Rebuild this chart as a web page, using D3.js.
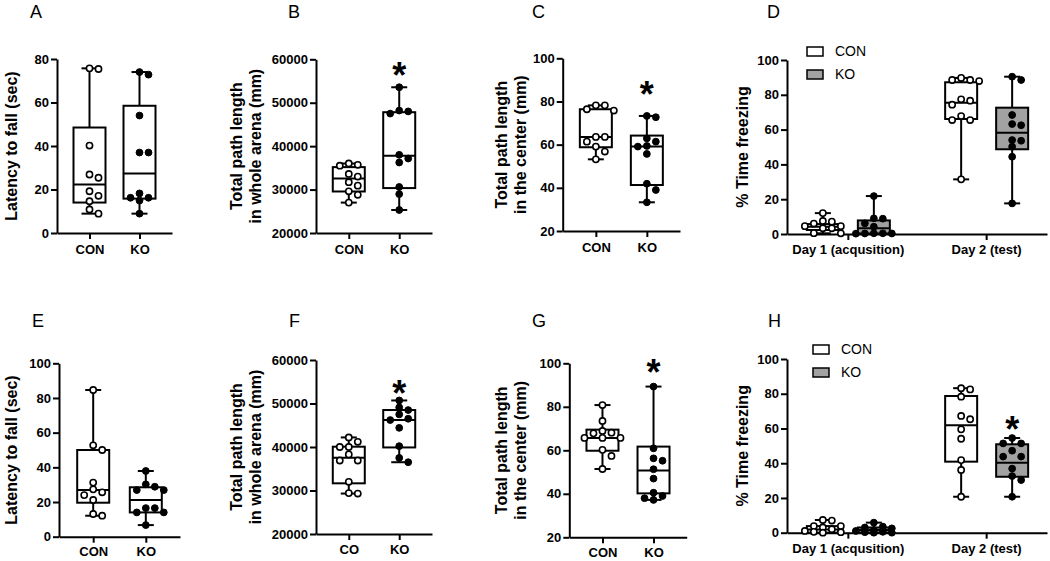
<!DOCTYPE html>
<html><head><meta charset="utf-8">
<script src="https://cdn.jsdelivr.net/npm/d3@7"></script>
<style>
body{margin:0;background:#fff;}
svg{display:block;font-family:"Liberation Sans",Arial,sans-serif;}
</style></head><body>
<svg id="chart" width="1050" height="561"></svg>
<script>
// ---------- DATA ----------
const groups = ["CON", "KO"];
const groupsF = ["CO", "KO"];
const days = ["Day 1 (acqusition)", "Day 2 (test)"];

const ticksA = [0, 20, 40, 60, 80];
const ticksPath = [20000, 30000, 40000, 50000, 60000];
const ticksCenter = [20, 40, 60, 80, 100];
const ticksPct = [0, 20, 40, 60, 80, 100];

// box stats: [min, q1, median, q3, max]
const aCON = [75.7, 75.4, 40.2, 26.9, 25.4, 19.2, 17.1, 14.6, 10.8, 8.9];
const aKO = [74.0, 72.8, 54.0, 37.0, 37.0, 18.2, 16.2, 16.2, 14.9, 8.9];
const aBoxCON = [8.9, 14.0, 22.3, 48.5, 75.7];
const aBoxKO = [8.9, 15.8, 27.4, 58.5, 74.0];

const bCON = [36000, 35700, 35500, 33600, 33000, 31700, 30900, 29600, 28800, 27000];
const bKO = [53560, 48200, 48000, 47500, 38000, 37150, 36230, 30600, 28960, 25300];
const bBoxCON = [27000, 29560, 32560, 35170, 36000];
const bBoxKO = [25300, 30345, 37770, 47816, 53560];

const cCON = [78.2, 78.2, 76.4, 75.8, 63.6, 63.6, 61.4, 59.1, 56.8, 53.2];
const cKO = [73.3, 72.7, 62.9, 61.4, 59.4, 59.1, 55.7, 41.9, 39.0, 33.3];
const cBoxCON = [53.2, 58.8, 63.6, 76.4, 78.2];
const cBoxKO = [33.3, 41.3, 59.1, 64.2, 73.3];

const dCONday1 = [12.0, 7.5, 7.1, 6.0, 4.5, 4.5, 3.3, 3.3, 0.5, 0.4];
const dKOday1 = [21.8, 9.0, 8.8, 6.1, 4.2, 0.4, 0.4, 0.3, 0.3, 0.2];
const dCONday2 = [89.7, 88.5, 88.5, 87.9, 77.4, 76.6, 74.3, 67.8, 65.5, 65.5, 31.4];
const dKOday2 = [90.4, 88.5, 68.4, 63.2, 62.5, 54.0, 53.6, 50.2, 44.4, 17.6];
const dBoxCONday1 = [0.4, 2.3, 4.2, 5.7, 12.0];
const dBoxKOday1 = [0.2, 0.3, 3.3, 7.8, 21.8];
const dBoxCONday2 = [31.4, 66.1, 75.5, 87.2, 89.7];
const dBoxKOday2 = [17.6, 48.7, 58.2, 72.6, 90.4];

const eCON = [84.6, 52.7, 50.0, 31.2, 27.3, 25.6, 24.0, 21.2, 13.1, 12.1];
const eKO = [37.9, 30.2, 28.8, 26.9, 26.9, 16.5, 16.5, 14.0, 14.0, 6.7];
const eBoxCON = [12.1, 19.6, 26.9, 50.0, 84.6];
const eBoxKO = [6.7, 14.0, 21.2, 28.5, 37.9];

const fCON = [42200, 41200, 40000, 40000, 38300, 36900, 36900, 32000, 29400, 29300];
const fKO = [50700, 49100, 48500, 47500, 46500, 46200, 44400, 40200, 37500, 36500];
const fBoxCON = [29300, 31650, 37540, 40070, 42200];
const fBoxKO = [36500, 39900, 46200, 48500, 50700];

const gCON = [80.8, 73.5, 68.9, 68.1, 67.8, 65.7, 65.7, 65.7, 60.2, 57.4, 51.4];
const gKO = [89.3, 60.9, 56.3, 55.2, 51.3, 47.0, 40.5, 39.0, 38.0, 37.2];
const gBoxCON = [51.4, 59.8, 65.7, 69.5, 80.8];
const gBoxKO = [37.2, 40.2, 50.7, 61.7, 89.3];

const hCONday1 = [7.3, 7.0, 3.8, 3.8, 3.0, 2.0, 1.0, 0.5, 0.3, 0.0];
const hKOday1 = [5.8, 3.5, 3.0, 2.5, 1.5, 1.0, 0.5, 0.3, 0.0, 0.0];
const hCONday2 = [83.2, 82.5, 78.3, 67.2, 65.3, 59.5, 54.1, 41.8, 36.1, 20.7];
const hKOday2 = [54.5, 51.4, 51.4, 47.2, 43.8, 43.8, 36.9, 32.6, 30.3, 20.7];
const hBoxCONday1 = [0.0, 0.0, 1.9, 3.8, 7.3];
const hBoxKOday1 = [0.0, 0.0, 1.5, 3.0, 5.8];
const hBoxCONday2 = [20.7, 40.9, 61.8, 78.7, 83.2];
const hBoxKOday2 = [20.7, 32.2, 40.3, 50.9, 54.5];

// significance stars: [group, y value]
const starB = ["KO", 58000];
const starC = ["KO", 86.7];
const starF = ["KO", 54000];
const starG = ["KO", 99.2];
const starH = ["KO", 63.9];

// ---------- DRAWING ----------
const svg = d3.select("#chart");
const R = 3.4;
const GRAY = "#a2a2a2";

function styleAxis(g) {
  g.attr("font-family", null).attr("font-size", null);
  g.select(".domain").attr("stroke", "#000").attr("stroke-width", 2);
  g.selectAll(".tick line").attr("stroke", "#000").attr("stroke-width", 2);
  g.selectAll(".tick text").attr("fill", "#000").attr("font-size", 13).attr("font-weight", "bold");
}

function drawBox(cx, y, b, fill) {
  const [mn, q1, md, q3, mx] = b;
  const w = 32, cw = 16;
  const g = svg.append("g").attr("stroke", "#000").attr("stroke-width", 2);
  g.append("line").attr("x1", cx).attr("x2", cx).attr("y1", y(mx)).attr("y2", y(q3));
  g.append("line").attr("x1", cx).attr("x2", cx).attr("y1", y(q1)).attr("y2", y(mn));
  g.append("line").attr("x1", cx - cw / 2).attr("x2", cx + cw / 2).attr("y1", y(mx)).attr("y2", y(mx));
  g.append("line").attr("x1", cx - cw / 2).attr("x2", cx + cw / 2).attr("y1", y(mn)).attr("y2", y(mn));
  g.append("rect").attr("x", cx - w / 2).attr("y", y(q3)).attr("width", w)
    .attr("height", Math.max(0, y(q1) - y(q3))).attr("fill", fill);
  g.append("line").attr("x1", cx - w / 2).attr("x2", cx + w / 2).attr("y1", y(md)).attr("y2", y(md));
}

function drawPoints(vals, cx, y, open) {
  const s = 9, minD = 6.6;
  const pts = vals.map(v => ({ v, py: y(v) })).sort((a, b) => a.py - b.py);
  const placed = [];
  const cands = [0, 1, -1, 2, -2];
  pts.forEach(p => {
    let best = null, bestD = -1;
    for (const k of cands) {
      const px = cx + k * s;
      const dmin = placed.length ? d3.min(placed, q => Math.hypot(q.px - px, q.py - p.py)) : Infinity;
      if (dmin >= minD) { best = px; break; }
      if (dmin > bestD) { bestD = dmin; best = px; }
    }
    p.px = best;
    placed.push(p);
  });
  svg.append("g").selectAll("circle").data(placed).join("circle")
    .attr("cx", d => d.px).attr("cy", d => d.py)
    .attr("r", open ? R - 0.3 : R)
    .attr("fill", open ? "#fff" : "#000")
    .attr("stroke", "#000").attr("stroke-width", open ? 1.6 : 1);
}

function drawStar(x, y, star) {
  const fs = 36;
  svg.append("text").attr("x", x).attr("y", y(star[1]) + 0.555 * fs)
    .attr("text-anchor", "middle").attr("font-size", fs).attr("font-weight", "bold").text("*");
}

function yLabel(lines, cx, cy) {
  const fs = 16;
  const t = svg.append("text").attr("transform", `translate(${cx},${cy}) rotate(-90)`)
    .attr("text-anchor", "middle").attr("font-size", fs).attr("font-weight", "bold");
  const n = lines.length;
  lines.forEach((l, i) => {
    t.append("tspan").attr("x", 0).attr("y", (i - (n - 1) / 2) * 19 + 0.35 * fs).text(l);
  });
}

function letter(txt, x, y) {
  svg.append("text").attr("x", x).attr("y", y).attr("font-size", 18).text(txt);
}

function simplePanel(cfg) {
  const y = d3.scaleLinear().domain(cfg.yDomain).range([cfg.yBot, cfg.yTop]);
  const x = d3.scalePoint().domain(cfg.cats).range([cfg.axisX, cfg.axisXEnd]).padding(0.65);
  svg.append("g").attr("transform", `translate(${cfg.axisX},0)`)
    .call(d3.axisLeft(y).tickValues(cfg.ticks).tickFormat(d3.format("d")).tickSize(6).tickPadding(2).tickSizeOuter(0))
    .call(styleAxis);
  svg.append("g").attr("transform", `translate(0,${cfg.yBot})`)
    .call(d3.axisBottom(x).tickSize(6).tickPadding(cfg.xPad).tickSizeOuter(0))
    .call(styleAxis);
  cfg.cats.forEach((c, i) => drawBox(x(c), y, cfg.boxes[i], "#fff"));
  cfg.cats.forEach((c, i) => drawPoints(cfg.points[i], x(c), y, i === 0));
  if (cfg.star) drawStar(x(cfg.cats[groups.indexOf(cfg.star[0])]), y, cfg.star);
  yLabel(cfg.label, cfg.labelX, (cfg.yTop + cfg.yBot) / 2);
  letter(cfg.letter, cfg.letterX, cfg.letterY);
}

function groupedPanel(cfg) {
  const y = d3.scaleLinear().domain([0, 100]).range([cfg.yBot, cfg.yTop]);
  const x0 = d3.scalePoint().domain(days).range([cfg.axisX, cfg.axisXEnd]).padding(0.44);
  const xs = d3.scalePoint().domain(groups).range([-25, 26]);
  svg.append("g").attr("transform", `translate(${cfg.axisX},0)`)
    .call(d3.axisLeft(y).tickValues(ticksPct).tickSize(6).tickPadding(2).tickSizeOuter(0))
    .call(styleAxis);
  svg.append("g").attr("transform", `translate(0,${cfg.yBot})`)
    .call(d3.axisBottom(x0).tickSize(6).tickPadding(cfg.xPad).tickSizeOuter(0))
    .call(styleAxis);
  days.forEach((d, di) => {
    groups.forEach((gname, gi) => {
      drawBox(x0(d) + xs(gname), y, cfg.boxes[di][gi], gi === 0 ? "#fff" : GRAY);
    });
    groups.forEach((gname, gi) => {
      drawPoints(cfg.points[di][gi], x0(d) + xs(gname), y, gi === 0);
    });
  });
  if (cfg.star) drawStar(x0(days[1]) + xs(cfg.star[0]), y, cfg.star);
  yLabel(["% Time freezing"], cfg.labelX, (cfg.yTop + cfg.yBot) / 2);
  letter(cfg.letter, cfg.letterX, cfg.letterY);
  const lg = svg.append("g");
  groups.forEach((gname, gi) => {
    const yy = cfg.legY + gi * 23;
    lg.append("rect").attr("x", cfg.legX).attr("y", yy - 9).attr("width", 16).attr("height", 9)
      .attr("fill", gi === 0 ? "#fff" : GRAY).attr("stroke", "#000").attr("stroke-width", 1.5);
    lg.append("text").attr("x", cfg.legX + 28).attr("y", yy).attr("font-size", 14).text(gname);
  });
}

// Top row
simplePanel({ yDomain: [0, 80], ticks: ticksA, yTop: 59, yBot: 233, axisX: 57, axisXEnd: 172,
  cats: groups, boxes: [aBoxCON, aBoxKO], points: [aCON, aKO], xPad: 6,
  label: ["Latency to fall (sec)"], labelX: 11, letter: "A", letterX: 30, letterY: 18 });
simplePanel({ yDomain: [20000, 60000], ticks: ticksPath, yTop: 59.3, yBot: 233, axisX: 316, axisXEnd: 432,
  cats: groups, boxes: [bBoxCON, bBoxKO], points: [bCON, bKO], xPad: 6, star: starB,
  label: ["Total path length", "in whole arena (mm)"], labelX: 246, letter: "B", letterX: 288, letterY: 18 });
simplePanel({ yDomain: [20, 100], ticks: ticksCenter, yTop: 58.3, yBot: 231, axisX: 562.7, axisXEnd: 680,
  cats: groups, boxes: [cBoxCON, cBoxKO], points: [cCON, cKO], xPad: 6, star: starC,
  label: ["Total path length", "in the center (mm)"], labelX: 511, letter: "C", letterX: 532, letterY: 18 });
groupedPanel({ yTop: 60, yBot: 234, axisX: 787, axisXEnd: 1047, xPad: 5,
  boxes: [[dBoxCONday1, dBoxKOday1], [dBoxCONday2, dBoxKOday2]],
  points: [[dCONday1, dKOday1], [dCONday2, dKOday2]],
  labelX: 742, letter: "D", letterX: 767, letterY: 18, legX: 807, legY: 56 });

// Bottom row
simplePanel({ yDomain: [0, 100], ticks: ticksPct, yTop: 363.3, yBot: 536.7, axisX: 59, axisXEnd: 180,
  cats: groups, boxes: [eBoxCON, eBoxKO], points: [eCON, eKO], xPad: 4.5,
  label: ["Latency to fall (sec)"], labelX: 11, letter: "E", letterX: 32, letterY: 327 });
simplePanel({ yDomain: [20000, 60000], ticks: ticksPath, yTop: 360, yBot: 534, axisX: 316, axisXEnd: 432,
  cats: groupsF, boxes: [fBoxCON, fBoxKO], points: [fCON, fKO], xPad: 5, star: starF,
  label: ["Total path length", "in whole arena (mm)"], labelX: 246, letter: "F", letterX: 289, letterY: 327 });
simplePanel({ yDomain: [20, 100], ticks: ticksCenter, yTop: 363.3, yBot: 537.3, axisX: 569.3, axisXEnd: 686.7,
  cats: groups, boxes: [gBoxCON, gBoxKO], points: [gCON, gKO], xPad: 4.5, star: starG,
  label: ["Total path length", "in the center (mm)"], labelX: 511, letter: "G", letterX: 532, letterY: 327 });
groupedPanel({ yTop: 359, yBot: 532.7, axisX: 787, axisXEnd: 1047, xPad: 5, star: starH,
  boxes: [[hBoxCONday1, hBoxKOday1], [hBoxCONday2, hBoxKOday2]],
  points: [[hCONday1, hKOday1], [hCONday2, hKOday2]],
  labelX: 742, letter: "H", letterX: 768, letterY: 327, legX: 813, legY: 354 });
</script>
</body></html>
